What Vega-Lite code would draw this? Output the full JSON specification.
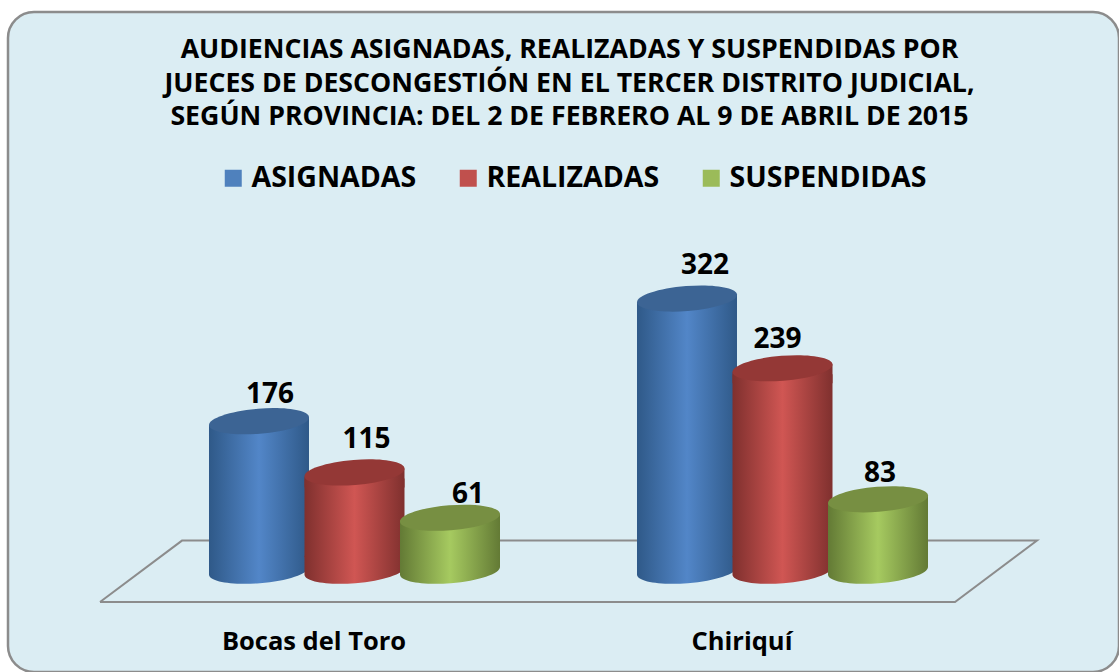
{
"$schema":"https://vega.github.io/schema/vega-lite/v6.json",
"width":1111,"height":660,
"autosize":{"type":"none"},
"padding":{"left":8,"top":12,"right":0,"bottom":0},
"background":"#ffffff",
"view":{"fill":"#DBEDF3","stroke":"#8C8C8C","strokeWidth":2.5,"cornerRadius":26},
"config":{"font":"Open Sans"},
"title":{"text":["AUDIENCIAS ASIGNADAS, REALIZADAS Y SUSPENDIDAS POR","JUECES DE DESCONGESTIÓN EN EL TERCER DISTRITO JUDICIAL,","SEGÚN PROVINCIA: DEL 2 DE FEBRERO AL 9 DE ABRIL DE 2015"],
"anchor":"middle","frame":"group","font":"Open Sans","fontSize":26.7,"fontWeight":"bold","color":"#000000","lineHeight":33.5,"baseline":"top","offset":0,"dy":119,"dx":6},
"data":{"values":[
{"provincia":"Bocas del Toro","serie":"ASIGNADAS","valor":176},
{"provincia":"Bocas del Toro","serie":"REALIZADAS","valor":115},
{"provincia":"Bocas del Toro","serie":"SUSPENDIDAS","valor":61},
{"provincia":"Chiriquí","serie":"ASIGNADAS","valor":322},
{"provincia":"Chiriquí","serie":"REALIZADAS","valor":239},
{"provincia":"Chiriquí","serie":"SUSPENDIDAS","valor":83}
]},
"resolve":{"scale":{"x":"independent"}},
"layer":[
{"data":{"values":[{"fx":92,"fy":-39.3,"o":1},{"fx":174,"fy":33.8,"o":2},{"fx":1029,"fy":33.8,"o":3},{"fx":947,"fy":-39.3,"o":4},{"fx":92,"fy":-39.3,"o":5}]},
 "mark":{"type":"line","color":"#8C8C8C","strokeWidth":2,"strokeJoin":"miter"},
 "encoding":{"x":{"field":"fx","type":"quantitative","scale":{"domain":[0,1111],"range":[0,1111],"nice":false,"zero":false},"axis":null},
 "y":{"field":"fy","type":"quantitative","scale":{"domain":[-122.6,663.1],"nice":false,"zero":false},"axis":null},
 "order":{"field":"o","type":"quantitative"}}},
{"encoding":{
 "x":{"field":"provincia","type":"nominal","sort":null,"scale":{"domain":["Bocas del Toro","Chiriquí"],"range":[132.5,988.5],"paddingInner":0.3306,"paddingOuter":0.1653},
  "axis":{"title":null,"orient":"bottom","offset":-31,"domain":false,"ticks":false,"grid":false,"labelAngle":0,"labelOffset":-40.5,"labelFont":"Open Sans","labelFontSize":25.5,"labelFontWeight":"bold","labelColor":"#000000","labelBaseline":"middle","labelPadding":0,"labelLimit":400}},
 "xOffset":{"field":"serie","type":"nominal","scale":{"domain":["ASIGNADAS","REALIZADAS","SUSPENDIDAS"]}},
 "y":{"field":"valor","type":"quantitative","scale":{"domain":[-122.6,663.1],"nice":false,"zero":false},"axis":null}
 },
 "layer":[
 {"mark":{"type":"bar","width":96,"yOffset":6},
  "encoding":{"y2":{"datum":14},"color":{"field":"serie","type":"nominal","scale":{"domain":["ASIGNADAS","REALIZADAS","SUSPENDIDAS"],"range":["#4F81BD","#C0504D","#9BBB59"]},
   "legend":{"title":null,"orient":"none","legendX":211,"legendY":152,"direction":"horizontal","columns":3,"symbolType":"square","symbolSize":289,"symbolStrokeWidth":0,"symbolOpacity":1,"labelFont":"Open Sans","labelFontSize":28.5,"labelFontWeight":"bold","labelColor":"#000000","labelOffset":4,"columnPadding":37,"gridAlign":"none","labelLimit":400}}}},

 {"transform":[{"filter":"datum.serie==='ASIGNADAS'"}],"layer":[
  {"mark":{"type":"point","shape":"M-1,-0.3L1,-0.3L1,-0.08A1.003,0.25,-4.6,0,1,-1,0.08Z","size":10000,"filled":true,"opacity":1,"strokeWidth":0,"fill":{"x1":0,"y1":0,"x2":1,"y2":0,"gradient":"linear","stops":[{"offset":0,"color":"#2F5988"},{"offset":0.5,"color":"#5286C8"},{"offset":1,"color":"#2F5988"}]}},"encoding":{"y":{"datum":-2}}},
  {"mark":{"type":"bar","width":100,"yOffset":6,"fill":{"x1":0,"y1":0,"x2":1,"y2":0,"gradient":"linear","stops":[{"offset":0,"color":"#2F5988"},{"offset":0.5,"color":"#5286C8"},{"offset":1,"color":"#2F5988"}]}},"encoding":{"y2":{"datum":14}}},
  {"mark":{"type":"point","shape":"M-1,0.08L1,-0.08L1,0.3L-1,0.3Z","size":10000,"filled":true,"opacity":1,"strokeWidth":0,"fill":{"x1":0,"y1":0,"x2":1,"y2":0,"gradient":"linear","stops":[{"offset":0,"color":"#2F5988"},{"offset":0.5,"color":"#5286C8"},{"offset":1,"color":"#2F5988"}]}}},
  {"mark":{"type":"point","shape":"M-1,0.08A1.003,0.25,-4.6,1,1,1,-0.08A1.003,0.25,-4.6,1,1,-1,0.08Z","size":10000,"filled":true,"opacity":1,"strokeWidth":0,"fill":"#3C6494"}}
 ]},
 {"transform":[{"filter":"datum.serie==='REALIZADAS'"}],"layer":[
  {"mark":{"type":"point","shape":"M-1,-0.3L1,-0.3L1,-0.08A1.003,0.25,-4.6,0,1,-1,0.08Z","size":10000,"filled":true,"opacity":1,"strokeWidth":0,"fill":{"x1":0,"y1":0,"x2":1,"y2":0,"gradient":"linear","stops":[{"offset":0,"color":"#7F302E"},{"offset":0.5,"color":"#D05653"},{"offset":1,"color":"#7F302E"}]}},"encoding":{"y":{"datum":-2}}},
  {"mark":{"type":"bar","width":100,"yOffset":6,"fill":{"x1":0,"y1":0,"x2":1,"y2":0,"gradient":"linear","stops":[{"offset":0,"color":"#7F302E"},{"offset":0.5,"color":"#D05653"},{"offset":1,"color":"#7F302E"}]}},"encoding":{"y2":{"datum":14}}},
  {"mark":{"type":"point","shape":"M-1,0.08L1,-0.08L1,0.3L-1,0.3Z","size":10000,"filled":true,"opacity":1,"strokeWidth":0,"fill":{"x1":0,"y1":0,"x2":1,"y2":0,"gradient":"linear","stops":[{"offset":0,"color":"#7F302E"},{"offset":0.5,"color":"#D05653"},{"offset":1,"color":"#7F302E"}]}}},
  {"mark":{"type":"point","shape":"M-1,0.08A1.003,0.25,-4.6,1,1,1,-0.08A1.003,0.25,-4.6,1,1,-1,0.08Z","size":10000,"filled":true,"opacity":1,"strokeWidth":0,"fill":"#943836"}}
 ]},
 {"transform":[{"filter":"datum.serie==='SUSPENDIDAS'"}],"layer":[
  {"mark":{"type":"point","shape":"M-1,-0.3L1,-0.3L1,-0.08A1.003,0.25,-4.6,0,1,-1,0.08Z","size":10000,"filled":true,"opacity":1,"strokeWidth":0,"fill":{"x1":0,"y1":0,"x2":1,"y2":0,"gradient":"linear","stops":[{"offset":0,"color":"#637A35"},{"offset":0.5,"color":"#A6CA60"},{"offset":1,"color":"#637A35"}]}},"encoding":{"y":{"datum":-2}}},
  {"mark":{"type":"bar","width":100,"yOffset":6,"fill":{"x1":0,"y1":0,"x2":1,"y2":0,"gradient":"linear","stops":[{"offset":0,"color":"#637A35"},{"offset":0.5,"color":"#A6CA60"},{"offset":1,"color":"#637A35"}]}},"encoding":{"y2":{"datum":14}}},
  {"mark":{"type":"point","shape":"M-1,0.08L1,-0.08L1,0.3L-1,0.3Z","size":10000,"filled":true,"opacity":1,"strokeWidth":0,"fill":{"x1":0,"y1":0,"x2":1,"y2":0,"gradient":"linear","stops":[{"offset":0,"color":"#637A35"},{"offset":0.5,"color":"#A6CA60"},{"offset":1,"color":"#637A35"}]}}},
  {"mark":{"type":"point","shape":"M-1,0.08A1.003,0.25,-4.6,1,1,1,-0.08A1.003,0.25,-4.6,1,1,-1,0.08Z","size":10000,"filled":true,"opacity":1,"strokeWidth":0,"fill":"#778F42"}}
 ]},
 {"transform":[{"filter":"datum.valor===176"}],"mark":{"type":"text","font":"Open Sans","fontSize":28,"fontWeight":"bold","color":"#000000","baseline":"alphabetic","dx":11,"dy":-18},"encoding":{"text":{"field":"valor","type":"quantitative"}}},
 {"transform":[{"filter":"datum.valor===115"}],"mark":{"type":"text","font":"Open Sans","fontSize":28,"fontWeight":"bold","color":"#000000","baseline":"alphabetic","dx":12,"dy":-24},"encoding":{"text":{"field":"valor","type":"quantitative"}}},
 {"transform":[{"filter":"datum.valor===61"}],"mark":{"type":"text","font":"Open Sans","fontSize":28,"fontWeight":"bold","color":"#000000","baseline":"alphabetic","dx":18,"dy":-15},"encoding":{"text":{"field":"valor","type":"quantitative"}}},
 {"transform":[{"filter":"datum.valor===322"}],"mark":{"type":"text","font":"Open Sans","fontSize":28,"fontWeight":"bold","color":"#000000","baseline":"alphabetic","dx":18,"dy":-25},"encoding":{"text":{"field":"valor","type":"quantitative"}}},
 {"transform":[{"filter":"datum.valor===239"}],"mark":{"type":"text","font":"Open Sans","fontSize":28,"fontWeight":"bold","color":"#000000","baseline":"alphabetic","dx":-5,"dy":-20},"encoding":{"text":{"field":"valor","type":"quantitative"}}},
 {"transform":[{"filter":"datum.valor===83"}],"mark":{"type":"text","font":"Open Sans","fontSize":28,"fontWeight":"bold","color":"#000000","baseline":"alphabetic","dx":2,"dy":-17},"encoding":{"text":{"field":"valor","type":"quantitative"}}}
 ]}
]
}
